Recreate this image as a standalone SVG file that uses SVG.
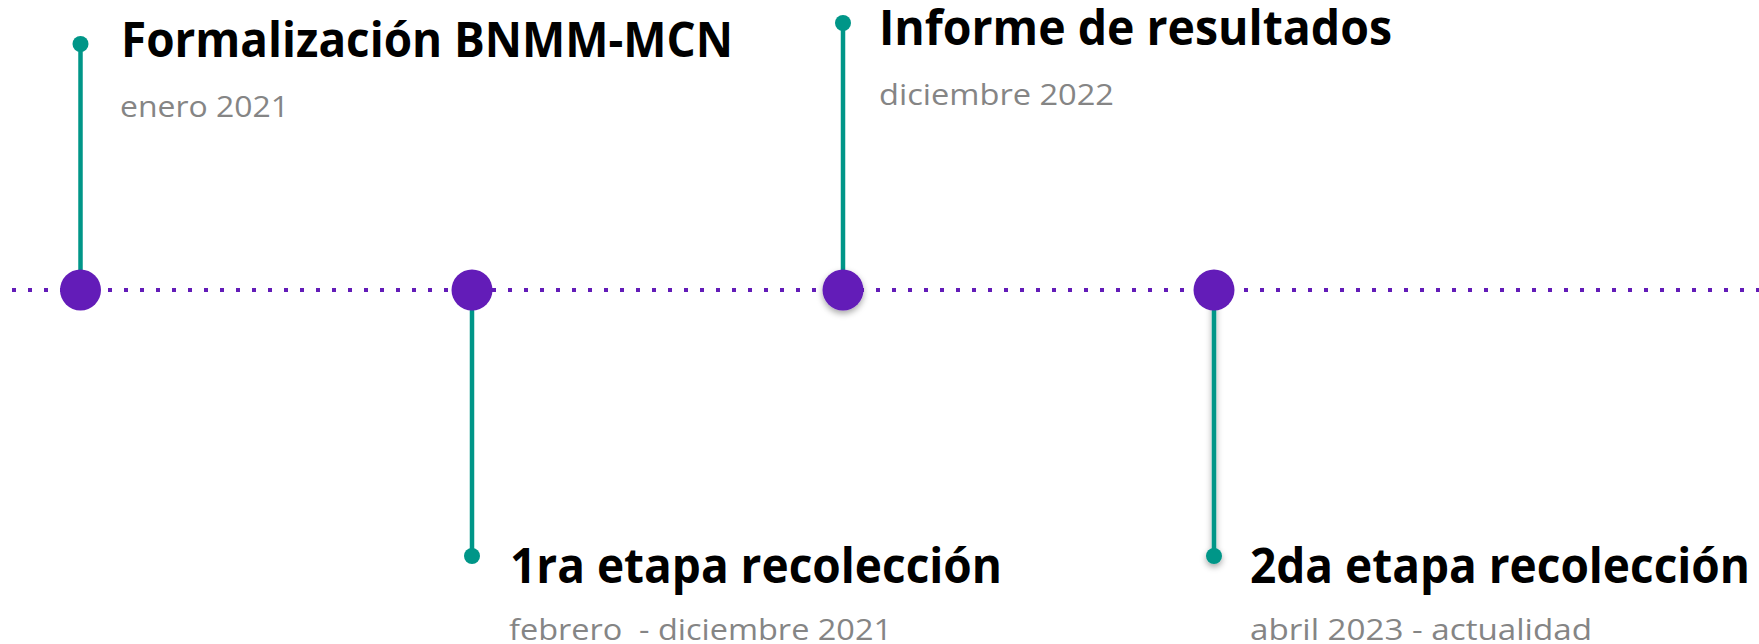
<svg xmlns="http://www.w3.org/2000/svg" width="1759" height="644" viewBox="0 0 1759 644">
  <defs>
    <filter id="shadow" x="-50%" y="-50%" width="200%" height="200%">
      <feDropShadow dx="0" dy="3" stdDeviation="3" flood-color="#000" flood-opacity="0.35"/>
    </filter>
    <style>
      .stem { stroke: #009688; stroke-width: 4.5; fill: none; }
      .pin { fill: #009688; }
      .hub { fill: #631cb8; }
      .title { font-family: "Open Sans", "Noto Sans", "Liberation Sans", sans-serif; font-weight: 700; font-size: 49px; fill: #000; }
      .date { font-family: "Open Sans", "Noto Sans", "Liberation Sans", sans-serif; font-weight: 400; font-size: 29px; fill: #858585; white-space: pre; }
      .timeline { stroke: #631cb8; stroke-width: 4; stroke-dasharray: 4 12; fill: none; }
    </style>
  </defs>
  <rect width="1759" height="644" fill="#ffffff"/>

  <g id="connectors">
    <line class="timeline" x1="12" y1="290" x2="1759" y2="290"/>
  </g>

  <g id="node-formalizacion">
    <line class="stem" x1="80.5" y1="44" x2="80.5" y2="290"/>
    <circle class="pin" cx="80.5" cy="44" r="8"/>
    <circle class="hub" cx="80.5" cy="290" r="20.5"/>
    <text class="title" x="121" y="57" textLength="612" lengthAdjust="spacingAndGlyphs">Formalización BNMM-MCN</text>
    <text class="date" x="120" y="117" textLength="169" lengthAdjust="spacingAndGlyphs">enero 2021</text>
  </g>

  <g id="node-1ra-etapa">
    <line class="stem" x1="472" y1="290" x2="472" y2="556"/>
    <circle class="pin" cx="472" cy="556" r="8"/>
    <circle class="hub" cx="472" cy="290" r="20.5"/>
    <text class="title" x="510" y="583" textLength="492" lengthAdjust="spacingAndGlyphs">1ra etapa recolección</text>
    <text class="date" x="509" y="640" textLength="383" lengthAdjust="spacingAndGlyphs" xml:space="preserve">febrero  - diciembre 2021</text>
  </g>

  <g id="node-informe">
    <line class="stem" x1="843" y1="23" x2="843" y2="290"/>
    <circle class="pin" cx="843" cy="23" r="8"/>
    <circle class="hub" cx="843" cy="290" r="20.5" filter="url(#shadow)"/>
    <text class="title" x="879" y="45" textLength="513" lengthAdjust="spacingAndGlyphs">Informe de resultados</text>
    <text class="date" x="879" y="105" textLength="235" lengthAdjust="spacingAndGlyphs">diciembre 2022</text>
  </g>

  <g id="node-2da-etapa">
    <g filter="url(#shadow)">
      <line class="stem" x1="1214" y1="290" x2="1214" y2="556"/>
      <circle class="pin" cx="1214" cy="556" r="8"/>
    </g>
    <circle class="hub" cx="1214" cy="290" r="20.5"/>
    <text class="title" x="1250" y="583" textLength="500" lengthAdjust="spacingAndGlyphs">2da etapa recolección</text>
    <text class="date" x="1250" y="640" textLength="342" lengthAdjust="spacingAndGlyphs">abril 2023 - actualidad</text>
  </g>
</svg>
